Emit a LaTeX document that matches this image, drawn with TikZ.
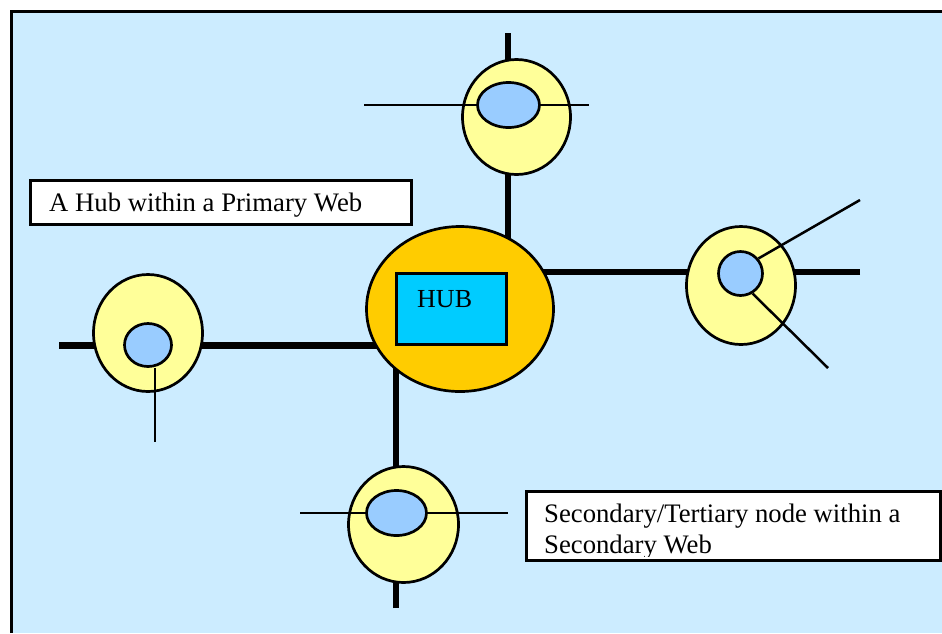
\documentclass[tikz,border=0pt]{standalone}
\usepackage{fontspec}
\setmainfont{Liberation Serif}
\usetikzlibrary{shapes.geometric}
\definecolor{sky}{HTML}{CCECFF}
\definecolor{hubgold}{HTML}{FFCC00}
\definecolor{hubcyan}{HTML}{00CCFF}
\definecolor{rimyellow}{HTML}{FFFF99}
\definecolor{coreblue}{HTML}{99CCFF}
\begin{document}
\begin{tikzpicture}[x=1pt,y=1pt]
\tikzstyle{every node}+=[inner sep=0pt]
\tikzstyle{spoke}=[black, line width=6.5pt]
\tikzstyle{wire}=[black, line width=2.5pt]
\tikzstyle{rim}=[ellipse, draw=black, line width=2.7pt, fill=rimyellow]
\tikzstyle{core}=[ellipse, draw=black, line width=2.7pt, fill=coreblue]
\tikzstyle{tag}=[draw=black, line width=3pt, fill=white, anchor=north west]
\tikzstyle{words}=[anchor=base west, font=\fontsize{26.7}{31}\selectfont]
\useasboundingbox (0,0) rectangle (942,-633);
\fill [sky] (10,-10) rectangle (942,-633);
\draw [black, line width=3pt] (11.5,-633) -- (11.5,-11.5) -- (942,-11.5);
% spokes out of the hub
\coordinate (hubc) at (460,-309);
\coordinate (topend) at (508,-33);
\coordinate (rightend) at (860,-272);
\coordinate (leftend) at (59,-345.5);
\coordinate (botend) at (396,-608);
\draw [spoke] (topend) -- (topend |- hubc);
\draw [spoke] (rightend) -- (rightend -| hubc);
\draw [spoke] (leftend) -- (leftend -| hubc);
\draw [spoke] (botend) -- (botend |- hubc);
% hub
\node [ellipse, draw=black, line width=2.7pt, fill=hubgold, minimum width=187pt, minimum height=165pt] (hub) at (hubc) {};
\node [draw=black, line width=3pt, fill=hubcyan, minimum width=110pt, minimum height=71pt] (hubbox) at (451.5,-309) {};
\node [words, font=\fontsize{26}{31}\selectfont] (hubname) at (417,-307) {HUB};
% secondary nodes
\node [rim, minimum width=108pt, minimum height=115pt] (topsat) at (516.5,-117) {};
\node [rim, minimum width=109pt, minimum height=118pt] (rightsat) at (741,-285.5) {};
\node [rim, minimum width=109pt, minimum height=117pt] (leftsat) at (148,-333) {};
\node [rim, minimum width=110pt, minimum height=116pt] (botsat) at (403.5,-524.5) {};
\node [core, minimum width=62pt, minimum height=45pt] (topcore) at (508.5,-105) {};
\node [core, minimum width=44pt, minimum height=44pt] (rightcore) at (740.5,-273.5) {};
\node [core, minimum width=47pt, minimum height=43pt] (leftcore) at (148,-345) {};
\node [core, minimum width=60pt, minimum height=45pt] (botcore) at (396.5,-513) {};
% secondary web lines
\coordinate (topwl) at (364,-105);
\coordinate (topwr) at (589,-105);
\coordinate (rwa) at (860,-200);
\coordinate (rwb) at (828,-368);
\coordinate (lwa) at (155,-442);
\coordinate (botwl) at (300,-513);
\coordinate (botwr) at (508,-513);
\draw [wire] (topwl) -- (topcore.west);
\draw [wire] (topcore.east) -- (topwr);
\draw [wire] (rightcore.40) -- (rwa);
\draw [wire] (rightcore.-59) -- (rwb);
\draw [wire] (lwa |- leftcore.south) -- (lwa);
\draw [wire] (botwl) -- (botcore.west);
\draw [wire] (botcore.east) -- (botwr);
% labels
\node [tag, minimum width=381pt, minimum height=44pt] (primarytag) at (28.5,-178.5) {};
\node [words] (primaryname) at (49,-211) {A Hub within a Primary Web};
\node [tag, minimum width=414pt, minimum height=69pt] (secondtag) at (524.5,-489.5) {};
\begin{scope}
\clip (secondtag.north west) rectangle ([yshift=5pt]secondtag.south east);
\node [words] (secondline1) at (544,-522) {Secondary/Tertiary node within a};
\node [words] (secondline2) at (544,-553) {Secondary Web};
\end{scope}
\end{tikzpicture}
\end{document}
